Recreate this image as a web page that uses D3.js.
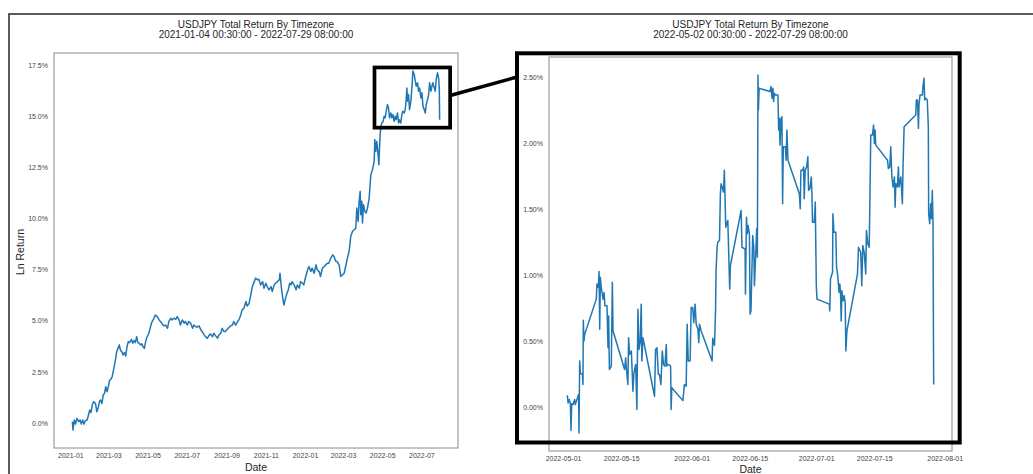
<!DOCTYPE html>
<html><head><meta charset="utf-8">
<script src="https://cdn.jsdelivr.net/npm/d3@7"></script>
<style>body{margin:0;background:#fff} text{font-family:"Liberation Sans",Arial,sans-serif}</style>
</head><body><svg id="c" width="1033" height="474"></svg>
<script>
// ---------------- DATA ----------------
const chartTitle = "USDJPY Total Return By Timezone";
const leftSubtitle = "2021-01-04 00:30:00 - 2022-07-29 08:00:00";
const rightSubtitle = "2022-05-02 00:30:00 - 2022-07-29 08:00:00";
const xLabel = "Date";
const yLabel = "Ln Return";

const leftDates = ["2021-01-04 00:30","2021-01-05","2021-01-07","2021-01-09","2021-01-11","2021-01-14","2021-01-16","2021-01-18","2021-01-20","2021-01-22","2021-01-24","2021-01-27","2021-01-29","2021-01-31",
"2021-02-02","2021-02-04","2021-02-06","2021-02-09","2021-02-11","2021-02-13","2021-02-15","2021-02-17","2021-02-19","2021-02-21","2021-02-23","2021-02-25","2021-02-27",
"2021-03-01","2021-03-03","2021-03-05","2021-03-07","2021-03-10","2021-03-12","2021-03-14","2021-03-16","2021-03-18","2021-03-20","2021-03-22","2021-03-24","2021-03-26","2021-03-28","2021-03-30",
"2021-04-01","2021-04-03","2021-04-06","2021-04-08","2021-04-10","2021-04-12","2021-04-14","2021-04-16","2021-04-18","2021-04-20","2021-04-22","2021-04-24","2021-04-26","2021-04-28","2021-04-30",
"2021-05-03","2021-05-06","2021-05-08","2021-05-11","2021-05-13","2021-05-16","2021-05-19","2021-05-21","2021-05-24","2021-05-26","2021-05-29",
"2021-06-01","2021-06-03","2021-06-06","2021-06-08","2021-06-11","2021-06-14","2021-06-16","2021-06-19","2021-06-21","2021-06-24","2021-06-27","2021-06-29",
"2021-07-02","2021-07-04","2021-07-07","2021-07-10","2021-07-12","2021-07-15","2021-07-17","2021-07-20","2021-07-23","2021-07-25","2021-07-28","2021-07-30",
"2021-08-02","2021-08-05","2021-08-07","2021-08-10","2021-08-12","2021-08-15","2021-08-18","2021-08-20","2021-08-23","2021-08-25","2021-08-28","2021-08-30",
"2021-09-02","2021-09-05","2021-09-07","2021-09-10","2021-09-12","2021-09-15","2021-09-18","2021-09-20","2021-09-23","2021-09-25","2021-09-28",
"2021-10-01","2021-10-03","2021-10-06","2021-10-08","2021-10-11","2021-10-14","2021-10-16","2021-10-19","2021-10-21","2021-10-24","2021-10-27","2021-10-29",
"2021-11-01","2021-11-03","2021-11-06","2021-11-09","2021-11-11","2021-11-14","2021-11-16","2021-11-19","2021-11-22","2021-11-23","2021-11-25","2021-11-27","2021-11-29",
"2021-12-01","2021-12-03","2021-12-06","2021-12-08","2021-12-10","2021-12-12","2021-12-15","2021-12-18","2021-12-20","2021-12-23","2021-12-25","2021-12-28","2021-12-30",
"2022-01-02","2022-01-05","2022-01-07","2022-01-10","2022-01-12","2022-01-15","2022-01-18","2022-01-20","2022-01-23","2022-01-25","2022-01-28","2022-01-31",
"2022-02-02","2022-02-05","2022-02-07","2022-02-10","2022-02-13","2022-02-15","2022-02-18","2022-02-20","2022-02-23","2022-02-25 14:00",
"2022-03-02 19:00","2022-03-07 22:00","2022-03-10 12:00","2022-03-13 02:00","2022-03-15 17:00","2022-03-18 07:00","2022-03-20 22:00","2022-03-22 12:00","2022-03-24 14:00","2022-03-26 02:00","2022-03-27 17:00","2022-03-28 17:00","2022-03-30 07:00","2022-03-31 07:00",
"2022-04-01 22:00","2022-04-04 00:00","2022-04-06 00:00","2022-04-08 02:00","2022-04-10 17:00","2022-04-13 07:00","2022-04-15 22:00","2022-04-18 12:00","2022-04-19 12:00","2022-04-21 02:00","2022-04-22 14:00","2022-04-24 05:00","2022-04-25 19:00","2022-04-26 19:00","2022-04-27 19:00","2022-04-28 22:00","2022-04-30 10:00",
"2022-05-02 12:00","2022-05-04 00:00","2022-05-05 14:00","2022-05-07 05:00","2022-05-09 05:00","2022-05-10 19:00","2022-05-12 10:00","2022-05-14 10:00","2022-05-16 00:00","2022-05-17 14:00","2022-05-19 14:00","2022-05-21 05:00","2022-05-22 19:00","2022-05-24 19:00","2022-05-26 10:00","2022-05-28 00:00","2022-05-30 00:00","2022-05-31 14:00",
"2022-06-02 02:00","2022-06-04 05:00","2022-06-05 19:00","2022-06-07 07:00","2022-06-08 10:00","2022-06-09 10:00","2022-06-11 00:00","2022-06-12 12:00","2022-06-14 14:00","2022-06-16 05:00","2022-06-17 17:00","2022-06-19 19:00","2022-06-21 10:00","2022-06-23 00:00","2022-06-25 00:00","2022-06-26 14:00","2022-06-28 05:00","2022-06-30 05:00",
"2022-07-01 19:00","2022-07-03 10:00","2022-07-05 10:00","2022-07-07 00:00","2022-07-08 12:00","2022-07-10 14:00","2022-07-12 05:00","2022-07-13 17:00","2022-07-15 19:00","2022-07-17 07:00","2022-07-18 22:00","2022-07-21 00:00","2022-07-22 12:00","2022-07-24 02:00","2022-07-26 02:00","2022-07-27 17:00","2022-07-28 19:00","2022-07-29 08:00"];
const leftValues = [0.07,-0.34,0.15,-0.05,0.23,0.07,0.15,-0.05,0.15,-0.05,0.11,0.15,0.39,0.64,
0.51,0.88,1.04,0.96,0.55,0.72,1.04,1.13,0.96,1.37,1.45,1.78,1.53,
1.78,2.10,2.14,2.27,2.76,3.08,3.49,3.65,3.82,3.54,3.49,3.33,3.44,3.28,3.73,
3.98,3.93,4.09,3.90,4.03,3.93,4.22,3.93,3.90,3.82,3.87,3.73,3.65,3.98,4.19,
4.39,4.75,4.96,5.12,5.28,5.20,5.04,4.96,4.84,4.75,4.79,
4.63,4.96,5.12,5.04,5.12,5.07,5.20,5.04,4.79,5.04,4.88,4.96,
4.79,4.96,4.88,4.63,4.79,4.71,4.68,4.75,4.55,4.47,4.31,4.22,
4.14,4.31,4.35,4.22,4.39,4.26,4.14,4.31,4.39,4.63,4.47,4.47,
4.58,4.68,4.75,4.79,4.96,4.79,4.96,5.04,5.28,5.53,5.61,
5.94,5.72,5.85,6.18,6.67,6.91,7.08,7.00,7.03,6.75,6.91,6.59,
6.83,6.67,6.51,6.67,6.43,6.75,6.83,6.91,7.00,7.32,6.67,6.18,5.77,
6.02,6.26,6.51,6.83,6.75,6.91,6.75,6.51,6.75,6.59,6.91,6.83,6.75,
7.16,7.49,7.65,7.40,7.57,7.32,7.73,7.49,7.40,7.16,7.57,7.65,
7.73,7.81,7.81,8.06,8.22,8.14,7.89,7.89,7.73,7.16,
7.32,8.06,8.38,9.12,9.36,9.44,9.52,10.50,9.85,10.83,11.32,10.18,10.83,9.77,
10.67,10.34,10.26,10.50,10.99,12.13,12.38,12.78,13.85,13.27,13.76,13.27,12.62,13.44,14.09,14.50,14.66,
14.74,14.99,14.91,15.23,15.56,15.39,14.91,15.15,14.91,15.07,14.74,14.99,14.82,15.15,14.66,14.82,14.66,15.07,
15.23,15.15,15.31,15.80,16.37,15.72,16.05,15.31,15.72,16.37,17.20,17.03,16.70,16.45,16.62,16.21,16.37,15.88,
16.13,15.47,15.31,15.15,15.56,15.80,16.05,16.62,16.21,16.45,16.62,16.37,16.21,16.80,17.11,16.86,16.37,14.82];

const rightDates = ["2022-05-02 00:30","2022-05-02 05:00","2022-05-02 11:00","2022-05-02 18:00","2022-05-02 22:00","2022-05-03 02:00","2022-05-03 10:00","2022-05-03 19:00","2022-05-03 23:00","2022-05-04 05:00","2022-05-04 18:00","2022-05-04 20:00","2022-05-05 00:00","2022-05-05 04:00","2022-05-05 16:00","2022-05-05 19:00","2022-05-05 21:00","2022-05-06 01:00","2022-05-06 05:00",
"2022-05-09 00:00","2022-05-09 04:00","2022-05-09 12:00","2022-05-09 16:00","2022-05-09 20:00","2022-05-09 23:30","2022-05-10 05:00","2022-05-10 15:00","2022-05-10 21:00","2022-05-11 02:00","2022-05-11 14:00","2022-05-11 20:00","2022-05-11 23:40","2022-05-12 04:00","2022-05-12 15:00","2022-05-12 21:00","2022-05-13 01:00",
"2022-05-15 20:00","2022-05-16 02:00","2022-05-16 06:00","2022-05-16 15:00","2022-05-16 19:00","2022-05-17 01:00","2022-05-17 11:00","2022-05-17 20:00","2022-05-18 02:00","2022-05-18 12:00","2022-05-18 19:00","2022-05-19 01:00","2022-05-19 07:00","2022-05-19 14:00","2022-05-19 20:00","2022-05-20 00:00","2022-05-20 06:00",
"2022-05-23 01:00","2022-05-23 07:00","2022-05-23 15:00","2022-05-23 23:00","2022-05-24 06:00","2022-05-24 14:00","2022-05-24 22:00","2022-05-25 05:00","2022-05-25 13:00","2022-05-25 21:00","2022-05-26 00:00","2022-05-26 06:00","2022-05-26 16:00","2022-05-26 22:00","2022-05-27 01:00","2022-05-27 05:00",
"2022-05-29 21:00","2022-05-30 06:00","2022-05-30 16:00","2022-05-30 22:00","2022-05-31 04:00","2022-05-31 15:00","2022-05-31 21:00","2022-06-01 06:00","2022-06-01 12:00","2022-06-01 20:00","2022-06-02 02:00","2022-06-02 12:00","2022-06-02 17:00","2022-06-02 21:00","2022-06-03 07:00",
"2022-06-05 22:00","2022-06-06 02:00","2022-06-06 12:00","2022-06-06 18:00","2022-06-06 21:00","2022-06-07 03:00","2022-06-07 07:00","2022-06-07 17:00","2022-06-07 22:00","2022-06-08 02:00","2022-06-08 08:00","2022-06-08 16:00","2022-06-08 21:00","2022-06-09 01:00","2022-06-09 05:00","2022-06-09 11:00","2022-06-09 17:00","2022-06-10 04:00","2022-06-10 08:00",
"2022-06-12 22:00","2022-06-13 03:00","2022-06-13 21:00","2022-06-13 23:00","2022-06-14 05:00","2022-06-14 10:00","2022-06-14 14:00","2022-06-14 22:00","2022-06-15 02:00","2022-06-15 07:00","2022-06-15 17:00","2022-06-15 23:00","2022-06-16 03:00","2022-06-16 08:00","2022-06-16 16:00","2022-06-16 20:00","2022-06-16 23:40","2022-06-17 02:00","2022-06-17 06:00",
"2022-06-19 21:00","2022-06-20 03:00","2022-06-20 09:00","2022-06-20 14:00","2022-06-20 18:00","2022-06-20 22:00","2022-06-21 04:00","2022-06-21 19:00","2022-06-21 23:00","2022-06-22 03:00","2022-06-22 07:00","2022-06-22 13:00","2022-06-22 18:00","2022-06-22 22:00","2022-06-23 02:00","2022-06-23 14:00","2022-06-23 18:00","2022-06-23 23:00","2022-06-24 05:00",
"2022-06-26 23:00","2022-06-27 04:00","2022-06-27 08:00","2022-06-27 18:00","2022-06-27 23:30","2022-06-28 03:00","2022-06-28 09:00","2022-06-28 17:00","2022-06-29 00:00","2022-06-29 04:00","2022-06-29 12:00","2022-06-29 20:00","2022-06-29 23:30","2022-06-30 03:00","2022-06-30 13:00","2022-06-30 19:00","2022-07-01 01:00","2022-07-01 05:00",
"2022-07-04 04:00","2022-07-04 07:00","2022-07-04 11:00","2022-07-04 23:00","2022-07-05 01:00","2022-07-05 07:00","2022-07-05 18:00","2022-07-05 22:00","2022-07-06 04:00","2022-07-06 13:00","2022-07-06 17:00","2022-07-06 21:00","2022-07-07 01:00","2022-07-07 05:00","2022-07-07 12:00","2022-07-07 18:00","2022-07-08 00:00","2022-07-08 04:00","2022-07-08 10:00",
"2022-07-10 23:00","2022-07-11 05:00","2022-07-11 09:00","2022-07-11 18:00","2022-07-12 00:00","2022-07-12 06:00","2022-07-12 14:00","2022-07-12 19:00","2022-07-12 23:00","2022-07-13 03:00","2022-07-13 11:00","2022-07-13 19:00","2022-07-13 23:00","2022-07-14 04:00","2022-07-14 14:00","2022-07-14 20:00","2022-07-15 01:00","2022-07-15 05:00","2022-07-15 09:00",
"2022-07-18 05:00","2022-07-18 10:00","2022-07-18 18:00","2022-07-18 23:40","2022-07-19 06:00","2022-07-19 13:00","2022-07-19 21:00","2022-07-20 01:00","2022-07-20 05:00","2022-07-20 14:00","2022-07-20 20:00","2022-07-20 23:40","2022-07-21 10:00","2022-07-21 19:00","2022-07-21 23:00","2022-07-22 05:00",
"2022-07-25 00:00","2022-07-25 04:00","2022-07-25 10:00","2022-07-25 16:00","2022-07-25 19:00","2022-07-26 01:00","2022-07-26 15:00","2022-07-26 18:00","2022-07-27 00:00","2022-07-27 04:00","2022-07-27 10:00","2022-07-27 19:00","2022-07-28 01:00","2022-07-28 03:00","2022-07-28 09:00","2022-07-28 15:00","2022-07-28 20:00","2022-07-29 00:00","2022-07-29 04:00","2022-07-29 06:00","2022-07-29 06:30","2022-07-29 08:00"];
const rightValues = [0.089,0.030,0.056,0.030,-0.178,0.025,0.018,0.056,0.018,0.043,0.094,-0.198,0.348,0.251,0.251,0.170,0.657,0.500,0.550,
0.817,0.931,0.906,1.027,0.589,0.982,0.906,0.817,0.868,0.766,0.766,0.449,0.690,0.284,0.309,0.944,0.576,
0.284,0.373,0.297,0.170,0.525,0.398,0.424,0.119,0.259,0.322,-0.020,0.741,0.436,0.487,0.779,0.348,0.525,
0.081,0.436,0.449,0.246,0.246,0.170,0.424,0.322,0.309,0.474,0.309,0.322,0.317,0.309,-0.020,0.145,
0.048,0.170,0.157,0.627,0.348,0.348,0.753,0.753,0.639,0.779,0.627,0.589,0.487,0.627,0.576,
0.348,0.520,0.467,0.728,1.032,1.210,1.248,1.261,1.616,1.692,1.667,1.629,1.794,1.591,1.362,1.388,1.413,0.893,1.071,
1.489,1.210,1.197,0.855,1.438,1.312,1.375,1.312,0.703,0.728,1.299,1.210,0.918,1.083,1.350,1.134,2.516,2.250,2.415,
2.390,2.428,2.339,2.415,2.314,2.377,2.364,2.364,2.098,2.187,1.984,2.187,2.199,1.540,1.971,1.971,1.870,2.098,1.870,
1.616,1.502,1.794,1.794,1.819,1.578,1.794,1.819,1.895,1.641,1.654,1.743,1.629,1.400,1.400,1.553,0.918,0.817,
0.779,0.728,0.969,1.020,1.464,1.324,1.324,1.058,1.007,0.868,0.931,0.868,0.652,0.880,0.804,0.842,0.791,0.424,0.576,
1.007,1.210,1.197,1.172,0.918,1.223,1.172,1.083,1.007,1.337,1.235,1.210,1.565,2.060,2.060,2.136,1.996,2.098,1.984,
1.870,1.806,1.819,1.971,1.743,1.667,1.743,1.514,1.692,1.667,1.819,1.667,1.743,1.540,1.844,2.123,
2.212,2.326,2.326,2.111,2.288,2.364,2.364,2.428,2.491,2.326,2.339,2.326,2.123,1.464,1.388,1.540,1.426,1.641,1.413,0.779,0.576,0.170];

const leftYTicks = [0, 2.5, 5, 7.5, 10, 12.5, 15, 17.5];
const leftXTicks = ["2021-01","2021-03","2021-05","2021-07","2021-09","2021-11","2022-01","2022-03","2022-05","2022-07"];
const rightYTicks = [0, 0.5, 1, 1.5, 2, 2.5];
const rightXTicks = ["2022-05-01","2022-05-15","2022-06-01","2022-06-15","2022-07-01","2022-07-15","2022-08-01"];
// zoom window marked on the full-period chart
const zoomWindowDates = ["2022-04-19", "2022-08-14 16:00"];
const zoomWindowValues = [14.43, 17.37];
const connectorStartValue = 16.0;

// ---------------- RENDER ----------------
const pFull = d3.utcParse("%Y-%m-%d %H:%M"), pDay = d3.utcParse("%Y-%m-%d"), pMonth = d3.utcParse("%Y-%m");
const parse = s => pFull(s) || pDay(s) || pMonth(s);
const svg = d3.select("#c");
svg.append("rect").attr("width",1033).attr("height",474).attr("fill","#fff");
// figure border
svg.append("rect").attr("x",9).attr("y",14).attr("width",1200).attr("height",600)
  .attr("fill","none").attr("stroke","#333").attr("stroke-width",1.6);

function pad(ext){ const p=(ext[1]-ext[0])*0.05; return [ext[0]-p, ext[1]+p]; }

function panel(o){
  const dates = o.dates.map(parse);
  const xt = pad(d3.extent(dates, d=>+d));
  const x = d3.scaleUtc().domain([new Date(xt[0]), new Date(xt[1])]).range([o.x0,o.x1]);
  const y = d3.scaleLinear().domain(pad(d3.extent(o.values))).range([o.y1,o.y0]);
  const g = svg.append("g");
  g.append("rect").attr("x",o.x0).attr("y",o.y0).attr("width",o.x1-o.x0).attr("height",o.y1-o.y0)
    .attr("fill","none").attr("stroke","#8a8a8a").attr("stroke-width",1);
  // y axis
  const ya = d3.axisLeft(y).tickValues(o.yTicks).tickSize(0).tickPadding(6).tickFormat(o.yFmt);
  const yg = g.append("g").attr("transform",`translate(${o.x0},0)`).call(ya);
  yg.select(".domain").remove();
  yg.selectAll("text").attr("font-size",7).attr("fill","#444").attr("font-family","Liberation Sans, Arial, sans-serif");
  // x axis
  const xa = d3.axisBottom(x).tickValues(o.xTicks.map(parse)).tickSize(0).tickPadding(0).tickFormat(o.xFmt);
  const xg = g.append("g").attr("transform",`translate(0,${o.y1})`).call(xa);
  xg.select(".domain").remove();
  xg.selectAll("text").attr("dy",null).attr("y",o.xTickDy).attr("font-size",7).attr("fill","#444").attr("font-family","Liberation Sans, Arial, sans-serif");
  // line
  const line = d3.line().x((d,i)=>x(dates[i])).y(d=>y(d));
  g.append("path").datum(o.values).attr("d",line).attr("fill","none")
    .attr("stroke","#1f77b4").attr("stroke-width",1.5).attr("stroke-linejoin","round");
  // titles
  const cx = (o.x0+o.x1)/2;
  g.append("text").attr("x",cx).attr("y",27.5).attr("text-anchor","middle").attr("font-size",10).attr("fill","#262626").text(chartTitle);
  g.append("text").attr("x",cx).attr("y",37.5).attr("text-anchor","middle").attr("font-size",10).attr("fill","#262626").text(o.subtitle);
  g.append("text").attr("x",cx).attr("y",o.y1+o.xLabelDy).attr("text-anchor","middle").attr("font-size",10.5).attr("fill","#262626").text(xLabel);
  return {x,y};
}

const L = panel({dates:leftDates, values:leftValues, x0:54, x1:458, y0:53, y1:448, yTicks:leftYTicks,
  yFmt:d=>d.toFixed(1)+"%", xTicks:leftXTicks, xFmt:d3.utcFormat("%Y-%m"), xTickDy:9.5, xLabelDy:22.7, subtitle:leftSubtitle});
svg.append("text").attr("transform","translate(23.5,252) rotate(-90)").attr("text-anchor","middle")
  .attr("font-size",10.5).attr("fill","#262626").text(yLabel);

const Rb = {x0:549, x1:952, y0:57, y1:451};
// zoom window on left chart
const zx0 = L.x(parse(zoomWindowDates[0])), zx1 = L.x(parse(zoomWindowDates[1]));
const zy0 = L.y(zoomWindowValues[1]), zy1 = L.y(zoomWindowValues[0]);
svg.append("rect").attr("x",zx0).attr("y",zy0).attr("width",zx1-zx0).attr("height",zy1-zy0)
  .attr("fill","none").attr("stroke","#000").attr("stroke-width",3.7);

const R = panel({dates:rightDates, values:rightValues, x0:Rb.x0, x1:Rb.x1, y0:Rb.y0, y1:Rb.y1, yTicks:rightYTicks,
  yFmt:d=>d.toFixed(2)+"%", xTicks:rightXTicks, xFmt:d3.utcFormat("%Y-%m-%d"), xTickDy:10, xLabelDy:22.3, subtitle:rightSubtitle});
// box around zoomed chart
const bx0 = Rb.x0-32, bx1 = Rb.x1+7.7, by0 = Rb.y0-3.7, by1 = Rb.y1-8.5;
svg.append("rect").attr("x",bx0).attr("y",by0).attr("width",bx1-bx0).attr("height",by1-by0)
  .attr("fill","none").attr("stroke","#000").attr("stroke-width",4);
// connector
svg.append("line").attr("x1",zx1).attr("y1",L.y(connectorStartValue)).attr("x2",bx0).attr("y2",R.y(2.5))
  .attr("stroke","#000").attr("stroke-width",3.5);
</script></body></html>
